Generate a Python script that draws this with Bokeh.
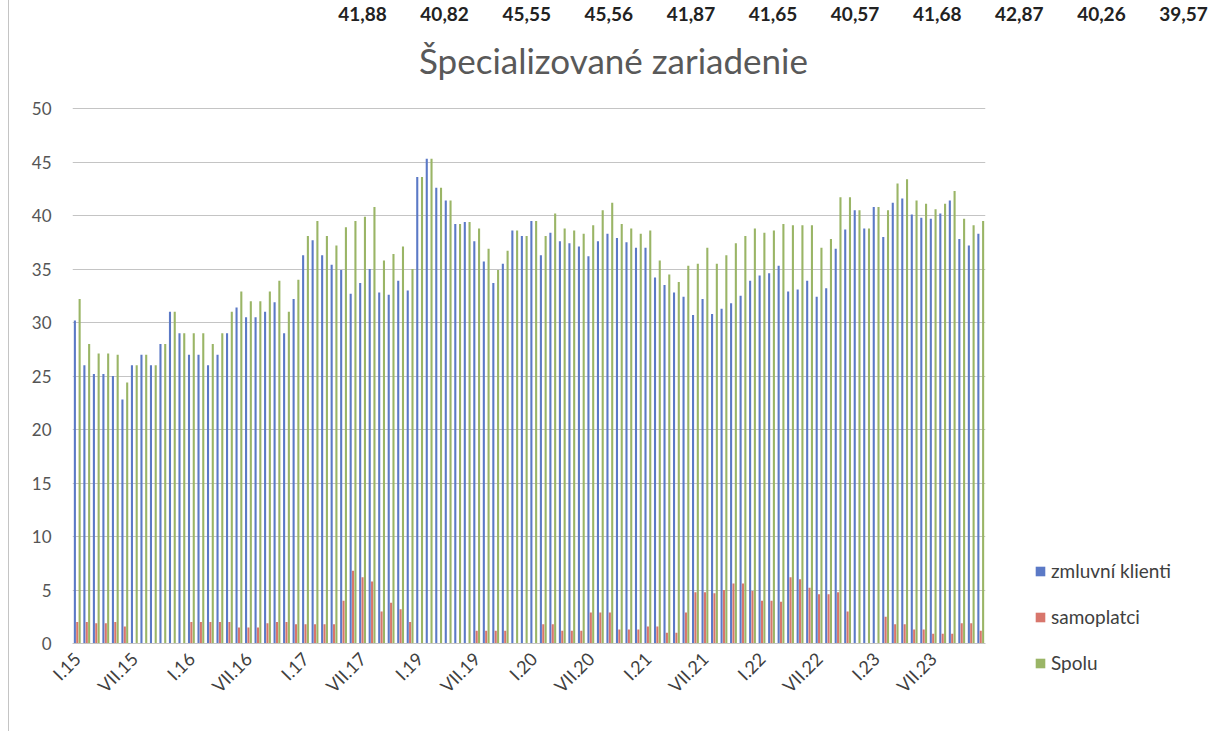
import math
from bokeh.plotting import figure
from bokeh.layouts import column, row
from bokeh.models import (ColumnDataSource, Range1d, FixedTicker, Legend, LegendItem,
                          Label)
from bokeh.transform import dodge
from bokeh.embed import file_html
from bokeh.resources import INLINE

# ---------------- data ----------------
years = ["15", "16", "17", "19", "20", "21", "22", "23"]
months = ["I", "II", "III", "IV", "V", "VI", "VII", "VIII", "IX", "X", "XI", "XII"]
categories = [f"{m}.{y}" for y in years for m in months]

zmluvni_klienti = [
    30.2, 26.0, 25.2, 25.2, 25.0, 22.8, 26.0, 27.0, 26.0, 28.0, 31.0, 29.0,
    27.0, 27.0, 26.0, 27.0, 29.0, 31.4, 30.5, 30.5, 31.0, 31.9, 29.0, 32.2,
    36.3, 37.7, 36.3, 35.4, 34.9, 32.7, 33.7, 35.0, 32.8, 32.6, 33.9, 33.0,
    43.6, 45.3, 42.6, 41.4, 39.2, 39.4, 37.6, 35.7, 33.7, 35.5, 38.6, 38.1,
    39.5, 36.3, 38.4, 37.6, 37.4, 37.1, 36.2, 37.6, 38.3, 37.9, 37.5, 37.0,
    37.0, 34.2, 33.5, 32.8, 32.4, 30.7, 32.2, 30.8, 31.3, 31.8, 32.5, 33.9,
    34.4, 34.6, 35.3, 32.9, 33.1, 33.9, 32.4, 33.2, 36.9, 38.7, 40.5, 38.8,
    40.8, 38.0, 41.2, 41.6, 40.1, 39.8, 39.7, 40.2, 41.4, 37.8, 37.2, 38.3,
]
samoplatci = [
    2.0, 2.0, 1.9, 1.9, 2.0, 1.6, 0.0, 0.0, 0.0, 0.0, 0.0, 0.0,
    2.0, 2.0, 2.0, 2.0, 2.0, 1.5, 1.5, 1.5, 1.9, 2.0, 2.0, 1.8,
    1.8, 1.8, 1.8, 1.8, 4.0, 6.8, 6.2, 5.8, 3.0, 3.8, 3.2, 2.0,
    0.0, 0.0, 0.0, 0.0, 0.0, 0.0, 1.2, 1.2, 1.2, 1.2, 0.0, 0.0,
    0.0, 1.8, 1.8, 1.2, 1.2, 1.2, 2.9, 2.9, 2.9, 1.3, 1.3, 1.3,
    1.6, 1.6, 1.0, 1.0, 2.9, 4.8, 4.8, 4.7, 5.0, 5.6, 5.6, 4.9,
    4.0, 4.0, 3.9, 6.2, 6.0, 5.2, 4.6, 4.6, 4.8, 3.0, 0.0, 0.0,
    0.0, 2.5, 1.8, 1.8, 1.3, 1.3, 0.9, 0.9, 0.9, 1.9, 1.9, 1.2,
]
spolu = [
    32.2, 28.0, 27.1, 27.1, 27.0, 24.4, 26.0, 27.0, 26.0, 28.0, 31.0, 29.0,
    29.0, 29.0, 28.0, 29.0, 31.0, 32.9, 32.0, 32.0, 32.9, 33.9, 31.0, 34.0,
    38.1, 39.5, 38.1, 37.2, 38.9, 39.5, 39.9, 40.8, 35.8, 36.4, 37.1, 35.0,
    43.6, 45.3, 42.6, 41.4, 39.2, 39.4, 38.8, 36.9, 34.9, 36.7, 38.6, 38.1,
    39.5, 38.1, 40.2, 38.8, 38.6, 38.3, 39.1, 40.5, 41.2, 39.2, 38.8, 38.3,
    38.6, 35.8, 34.5, 33.8, 35.3, 35.5, 37.0, 35.5, 36.3, 37.4, 38.1, 38.8,
    38.4, 38.6, 39.2, 39.1, 39.1, 39.1, 37.0, 37.8, 41.7, 41.7, 40.5, 38.8,
    40.8, 40.5, 43.0, 43.4, 41.4, 41.1, 40.6, 41.1, 42.3, 39.7, 39.1, 39.5,
]
series_names = ["zmluvní klienti", "samoplatci", "Spolu"]
chart_title = "Špecializované zariadenie"
tick_every = 6
header_values = ["41,88", "40,82", "45,55", "45,56", "41,87", "41,65",
                 "40,57", "41,68", "42,87", "40,26", "39,57"]

colors = ["#5b79c6", "#d8766c", "#9ab566"]
FONT = "Lato"
BORDER_BG = ("linear-gradient(to right, white 8px, #c4c4c4 8px, "
             "#c4c4c4 9px, white 9px)")

TOTAL_W, TOTAL_H = 1210, 731
HEAD_H = 95          # header strip (page text + chart title)
MAIN_W = 1020        # main plot width, legend strip to its right
BODY_H = TOTAL_H - HEAD_H


def no_align(fig):
    if "frame_align" in fig.properties():
        fig.frame_align = False


# ---------------- header strip (page numbers + title) ----------------
head = figure(width=TOTAL_W, height=HEAD_H, output_backend="svg", toolbar_location=None,
              x_range=Range1d(0, TOTAL_W), y_range=Range1d(HEAD_H, 0),
              x_axis_location=None, y_axis_location=None, min_border=0)
head.grid.visible = False
head.outline_line_color = None
head.background_fill_color = None
head.border_fill_color = None
head.styles = {"background": BORDER_BG}
no_align(head)

for k, t in enumerate(header_values):
    head.add_layout(Label(x=362 + 82.1 * k, y=13, text=t, text_align="center",
                          text_baseline="middle", text_font=FONT,
                          text_font_style="bold", text_font_size="19px",
                          text_color="#222222"))
head.add_layout(Label(x=613, y=59, text=chart_title, text_align="center",
                      text_baseline="middle", text_font=FONT,
                      text_font_size="35px", text_color="#595959"))

# ---------------- main bar chart ----------------
n = len(categories)
idx = list(range(n))

p = figure(width=MAIN_W, height=BODY_H, output_backend="svg", toolbar_location=None,
           x_range=Range1d(-0.5, n - 0.5), y_range=Range1d(0, 50.1),
           min_border_left=72, min_border_right=MAIN_W - 985,
           min_border_top=107 - HEAD_H, min_border_bottom=TOTAL_H - 643)
p.background_fill_color = "white"
p.border_fill_color = None
p.outline_line_color = None
p.styles = {"background": BORDER_BG}
no_align(p)

src = ColumnDataSource(dict(x=idx, a=zmluvni_klienti, b=samoplatci, c=spolu))
bw = 0.22
p.vbar(x=dodge("x", -0.25, range=p.x_range), top="a", width=bw, source=src,
       fill_color=colors[0], line_color=None)
p.vbar(x="x", top="b", width=bw, source=src, fill_color=colors[1], line_color=None)
p.vbar(x=dodge("x", 0.25, range=p.x_range), top="c", width=bw, source=src,
       fill_color=colors[2], line_color=None)

p.yaxis.ticker = FixedTicker(ticks=list(range(0, 51, 5)))
p.yaxis.axis_line_color = None
p.yaxis.major_tick_line_color = None
p.yaxis.major_tick_out = 0
p.yaxis.minor_tick_line_color = None
p.yaxis.major_label_text_font = FONT
p.yaxis.major_label_text_font_size = "17px"
p.yaxis.major_label_text_color = "#555555"
p.yaxis.major_label_standoff = 21

ticks = idx[::tick_every]
p.xaxis.ticker = FixedTicker(ticks=ticks)
p.xaxis.major_label_overrides = {i: categories[i] for i in ticks}
p.xaxis.major_label_orientation = math.pi / 4
p.xaxis.axis_line_color = "#c4c4c4"
p.xaxis.major_tick_line_color = None
p.xaxis.minor_tick_line_color = None
p.xaxis.major_label_text_font = FONT
p.xaxis.major_label_text_font_size = "18px"
p.xaxis.major_label_text_color = "#404040"
p.xaxis.major_label_standoff = 6

p.xgrid.grid_line_color = None
p.ygrid.grid_line_color = "#c4c4c4"
p.ygrid.grid_line_width = 1

# ---------------- legend strip ----------------
lg = figure(width=TOTAL_W - MAIN_W, height=BODY_H, output_backend="svg",
            toolbar_location=None, x_range=Range1d(0, 1), y_range=Range1d(0, 1),
            x_axis_location=None, y_axis_location=None, min_border=0)
lg.grid.visible = False
lg.outline_line_color = None
lg.background_fill_color = "white"
lg.border_fill_color = "white"
no_align(lg)
# swatch renderers (their single bar sits outside the visible range)
dummies = [lg.vbar(x=[5], top=[1], width=0.1, fill_color=c, line_color=None) for c in colors]
legend = Legend(items=[LegendItem(label=nm, renderers=[r]) for nm, r in zip(series_names, dummies)],
                location=(14, 57), orientation="vertical")
legend.background_fill_alpha = 0
legend.border_line_color = None
legend.glyph_width = 12
legend.glyph_height = 12
legend.label_height = 23
legend.spacing = 23
legend.padding = 0
legend.margin = 0
legend.label_standoff = 5
legend.label_text_font = FONT
legend.label_text_font_size = "19px"
legend.label_text_color = "#404040"
lg.add_layout(legend, "center")

layout = column(head, row(p, lg, spacing=0), spacing=0)
open("out.html", "w").write(file_html(layout, INLINE))
